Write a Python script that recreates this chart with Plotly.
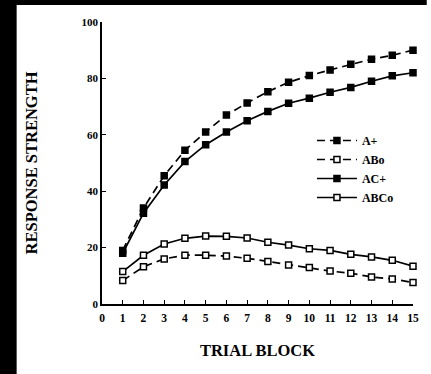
import plotly.graph_objects as go

# Trial blocks and mean response strength per stimulus condition
trial_block = list(range(1, 16))
a_plus = [19, 34, 45.5, 54.5, 61, 67, 71.3, 75.3, 78.6, 81, 83, 85, 86.8, 88.2, 90]
ab_o = [8.3, 13.2, 16, 17.3, 17.3, 17, 16.2, 15.1, 13.8, 12.9, 11.7, 10.9, 9.6, 8.9, 7.6]
ac_plus = [18, 32.2, 42.2, 50.5, 56.5, 61, 65, 68.3, 71.2, 73, 75.1, 76.8, 79, 80.9, 82]
abc_o = [11.5, 17.3, 21.3, 23.3, 24.1, 24, 23.4, 21.9, 20.9, 19.6, 19, 17.6, 16.7, 15.5, 13.4]

x_tick_labels = [str(i) for i in range(0, 16)]
y_tick_values = [0, 20, 40, 60, 80, 100]

serif = "Liberation Serif"
series = [
    ("A+", a_plus, "dash", "black"),
    ("ABo", ab_o, "dash", "white"),
    ("AC+", ac_plus, "solid", "black"),
    ("ABCo", abc_o, "solid", "white"),
]

fig = go.Figure()
for name, values, dash, fill in series:
    fig.add_trace(go.Scatter(
        x=trial_block, y=values, name=name, mode="lines+markers",
        line=dict(color="black", width=1.7, dash="8px,5px" if dash == "dash" else "solid"),
        marker=dict(symbol="square", size=6, color=fill,
                    line=dict(color="black", width=1.5)),
        cliponaxis=False,
    ))

W, H = 431, 374
L, R, T, B = 102, 12, 22, 70
pw, ph = W - L - R, H - T - B

def px_x(p):
    return (p - L) / pw

def px_y(p):
    return (H - B - p) / ph

# dark frame bands along the top and left edges of the page
shapes = [
    dict(type="rect", xref="paper", yref="paper", x0=px_x(-2), x1=px_x(15),
         y0=px_y(H + 2), y1=px_y(-2), fillcolor="black", line_width=0, layer="above"),
    dict(type="rect", xref="paper", yref="paper", x0=px_x(-2), x1=px_x(W + 2),
         y0=px_y(5), y1=px_y(-2), fillcolor="black", line_width=0, layer="above"),
]

fig.update_layout(
    width=W, height=H,
    margin=dict(l=L, r=R, t=T, b=B),
    paper_bgcolor="white", plot_bgcolor="white",
    font=dict(family=serif, color="black"),
    shapes=shapes,
    showlegend=True,
    legend=dict(
        x=px_x(316), y=px_y(126), xanchor="left", yanchor="top",
        bgcolor="rgba(0,0,0,0)", borderwidth=0,
        font=dict(family=serif, size=12, color="black", weight="bold"),
        itemwidth=40, tracegroupgap=0,
    ),
    xaxis=dict(
        range=[0, 15], tickvals=list(range(0, 16)), ticktext=x_tick_labels,
        showline=True, linecolor="black", linewidth=1.8,
        ticks="inside", ticklen=4, tickwidth=1.2, tickcolor="black",
        showgrid=False, zeroline=False, ticklabelstandoff=2,
        tickfont=dict(family=serif, size=11.5, color="black", weight="bold"),
        title=dict(text="TRIAL BLOCK", standoff=22,
                   font=dict(family=serif, size=16.5, color="black", weight="bold")),
    ),
    yaxis=dict(
        range=[0, 100], tickvals=y_tick_values,
        showline=True, linecolor="black", linewidth=1.8,
        ticks="inside", ticklen=4, tickwidth=1.2, tickcolor="black",
        showgrid=False, zeroline=False,
        tickfont=dict(family=serif, size=11, color="black", weight="bold"),
        title=dict(text="RESPONSE STRENGTH", standoff=40,
                   font=dict(family=serif, size=16.5, color="black", weight="bold")),
    ),
)

fig.write_html("out.html")
